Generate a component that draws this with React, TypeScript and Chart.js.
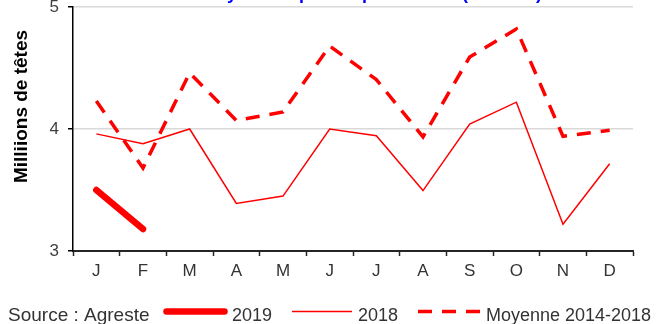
import React, { useEffect, useRef } from 'react';
import { Chart, registerables } from 'chart.js';

Chart.register(...registerables);

// Monthly values, millions of head
const MONTHS = ['J', 'F', 'M', 'A', 'M', 'J', 'J', 'A', 'S', 'O', 'N', 'D'];
const VALUES_2019 = [3.5, 3.18];
const VALUES_2018 = [3.96, 3.88, 4.0, 3.39, 3.45, 4.0, 3.945, 3.495, 4.04, 4.22, 3.22, 3.715];
const VALUES_MOYENNE = [4.23, 3.68, 4.46, 4.07, 4.14, 4.68, 4.405, 3.935, 4.59, 4.82, 3.94, 3.99];
const Y_TICKS = [3, 4, 5];
const SERIES_LABELS = ['2019', '2018', 'Moyenne 2014-2018'];

const TITLE = 'Effectif moyen des poules pondeuses (millions)';
const Y_TITLE = 'Milliions de têtes';
const SOURCE = 'Source : Agreste';

const FONT = '"Liberation Sans", Arial, sans-serif';
const RED = '#FF0000';

// Legend sample positions (line start/end, label start)
const LEGEND_ITEMS = [
  { x1: 166.5, x2: 224.5, tx: 232 },
  { x1: 292, x2: 352, tx: 358 },
  { x1: 418, x2: 480, tx: 486 },
];
const LEGEND_LINE_Y = 311.5;
const LEGEND_TEXT_Y = 321;

const decorations = {
  id: 'decorations',
  afterDraw(chart: any) {
    const { ctx } = chart;
    ctx.save();

    // Title: only the lower edge reaches into the canvas
    ctx.font = `bold 18px ${FONT}`;
    ctx.fillStyle = '#0000FF';
    ctx.textAlign = 'center';
    ctx.textBaseline = 'alphabetic';
    ctx.fillText(TITLE, 338, -1);

    // Vertical axis title
    ctx.save();
    ctx.translate(22, 106.5);
    ctx.rotate(-Math.PI / 2);
    ctx.font = `bold 19px ${FONT}`;
    ctx.fillStyle = '#000000';
    ctx.textAlign = 'center';
    ctx.textBaseline = 'middle';
    ctx.fillText(Y_TITLE, 0, 0);
    ctx.restore();

    // Source note
    ctx.font = `19px ${FONT}`;
    ctx.fillStyle = '#333333';
    ctx.textAlign = 'left';
    ctx.textBaseline = 'alphabetic';
    ctx.fillText(SOURCE, 8, LEGEND_TEXT_Y);

    // Legend
    ctx.font = `18px ${FONT}`;
    chart.data.datasets.forEach((ds: any, i: number) => {
      const item = LEGEND_ITEMS[i];
      if (!item) return;
      ctx.save();
      ctx.strokeStyle = ds.borderColor;
      ctx.lineWidth = ds.borderWidth;
      ctx.lineCap = ds.borderCapStyle || 'butt';
      ctx.setLineDash(ds.borderDash || []);
      ctx.beginPath();
      ctx.moveTo(item.x1, LEGEND_LINE_Y);
      ctx.lineTo(item.x2, LEGEND_LINE_Y);
      ctx.stroke();
      ctx.restore();
      ctx.fillStyle = '#333333';
      ctx.fillText(ds.label, item.tx, LEGEND_TEXT_Y);
    });

    ctx.restore();
  },
};

export default function App() {
  const canvasRef = useRef<HTMLCanvasElement | null>(null);

  useEffect(() => {
    const canvas = canvasRef.current;
    if (!canvas) return;

    const chart = new Chart(canvas, {
      type: 'line',
      data: {
        labels: MONTHS,
        datasets: [
          {
            label: SERIES_LABELS[0],
            data: VALUES_2019,
            borderColor: RED,
            borderWidth: 6.5,
            borderCapStyle: 'round',
            borderJoinStyle: 'round',
            pointRadius: 0,
            tension: 0,
            fill: false,
            order: 0,
          },
          {
            label: SERIES_LABELS[1],
            data: VALUES_2018,
            borderColor: RED,
            borderWidth: 1.5,
            pointRadius: 0,
            tension: 0,
            fill: false,
            order: 2,
          },
          {
            label: SERIES_LABELS[2],
            data: VALUES_MOYENNE,
            borderColor: RED,
            borderWidth: 3.5,
            borderDash: [14, 10],
            borderCapStyle: 'butt',
            pointRadius: 0,
            tension: 0,
            fill: false,
            order: 1,
          },
        ],
      },
      options: {
        responsive: false,
        animation: false,
        devicePixelRatio: 1,
        layout: { padding: { top: 7, right: 25, left: 0, bottom: 0 } },
        plugins: {
          legend: { display: false },
          title: { display: false },
          tooltip: { enabled: false },
        },
        scales: {
          x: {
            type: 'category',
            offset: true,
            grid: {
              display: true,
              offset: true,
              drawOnChartArea: false,
              drawTicks: true,
              tickLength: 5,
              tickColor: '#262626',
              tickWidth: 1.5,
            },
            border: { display: true, color: '#262626', width: 2 },
            ticks: {
              color: '#333333',
              font: { family: FONT, size: 17 },
              padding: 5,
              maxRotation: 0,
              autoSkip: false,
            },
            afterFit: (s: any) => {
              s.height = 73;
              s.paddingLeft = 0;
              s.paddingRight = 0;
            },
          },
          y: {
            min: Y_TICKS[0],
            max: Y_TICKS[Y_TICKS.length - 1],
            afterBuildTicks: (s: any) => {
              s.ticks = Y_TICKS.map((v) => ({ value: v }));
            },
            ticks: {
              color: '#404040',
              font: { family: FONT, size: 17 },
              padding: 9,
            },
            grid: {
              color: '#d9d9d9',
              lineWidth: 1.5,
              drawTicks: true,
              tickLength: 5,
              tickColor: '#000000',
              tickWidth: 1.5,
            },
            border: { display: true, color: '#000000', width: 1.5 },
            afterFit: (s: any) => {
              s.width = 73;
              s.paddingTop = 0;
              s.paddingBottom = 0;
            },
          },
        },
      },
      plugins: [decorations],
    } as any);

    return () => chart.destroy();
  }, []);

  return (
    <div style={{ position: 'fixed', left: 0, top: 0, width: 658, height: 324, background: '#ffffff' }}>
      <canvas ref={canvasRef} width={658} height={324} style={{ display: 'block' }} />
    </div>
  );
}
